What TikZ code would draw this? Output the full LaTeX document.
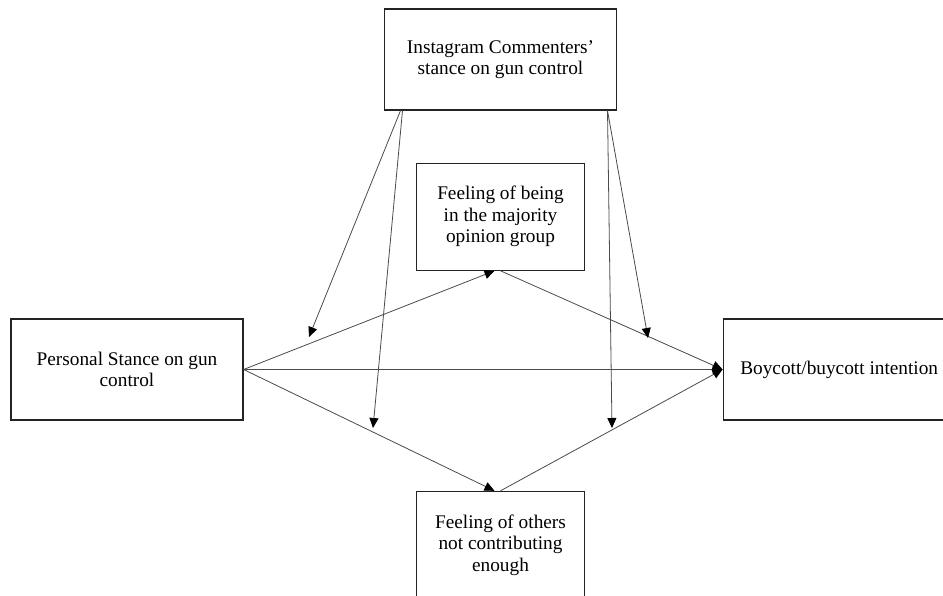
\documentclass[tikz,border=0pt]{standalone}
\usepackage{fontspec}
\setmainfont{Liberation Serif}
\usetikzlibrary{arrows.meta, positioning}
\definecolor{boxDraw}{RGB}{35, 35, 35}
\definecolor{lineColor}{RGB}{75, 75, 75}
\tikzset{
    x=1pt, y=-1pt,
    font=\fontsize{19.3}{21.5}\selectfont,
    % --- variable boxes ---
    varBox/.style={
        rectangle, draw=boxDraw, line width=1.2pt, fill=white,
        align=center, inner sep=4pt
    },
    wideBox/.style={varBox, minimum width=232pt, minimum height=101pt},
    narrowBox/.style={varBox, minimum width=168pt, minimum height=107pt},
    % --- connectors ---
    conn/.style={
        draw=lineColor, line width=0.8pt,
        -{Triangle[length=10pt, width=9pt, color=black]}
    }
}
\begin{document}
\begin{tikzpicture}

	% =========================================================
	% canvas
	% =========================================================
	\clip (0,0) rectangle (943,595);
	\fill[white] (0,0) rectangle (943,595);

	% =========================================================
	% boxes
	% =========================================================
	\node [wideBox] (cmnt) at (500.5,59.5) {Instagram Commenters’\\stance on gun control};
	\node [narrowBox, below=52pt of cmnt] (major) {Feeling of being\\in the majority\\opinion group};
	\node [narrowBox, below=220pt of major] (others) {Feeling of others\\not contributing\\enough};
	\node [wideBox] (pers) at (127,369.5) {Personal Stance on gun\\control};
	\node [wideBox, right=479pt of pers] (boyc) {Boycott/buycott intention};

	% --- moderator targets ---
	\coordinate (m1) at (309,337);
	\coordinate (m2) at (373,428);
	\coordinate (m3) at (648,338);
	\coordinate (m4) at (612,428);

	% =========================================================
	% paths
	% =========================================================
	\draw [conn] (pers.east) -- ([xshift=-6pt]major.south);
	\draw [conn] (pers.east) -- ([xshift=-6pt]others.north);
	\draw [conn] (pers.east) -- (boyc.west);
	\draw [conn] (major.south) -- (boyc.west);
	\draw [conn] (others.north) -- (boyc.west);

	% --- moderation by commenters ---
	\draw [conn] ([xshift=-100pt]cmnt.south) -- (m1);
	\draw [conn] ([xshift=-98pt]cmnt.south) -- (m2);
	\draw [conn] ([xshift=107pt]cmnt.south) -- (m3);
	\draw [conn] ([xshift=107pt]cmnt.south) -- (m4);

\end{tikzpicture}
\end{document}
